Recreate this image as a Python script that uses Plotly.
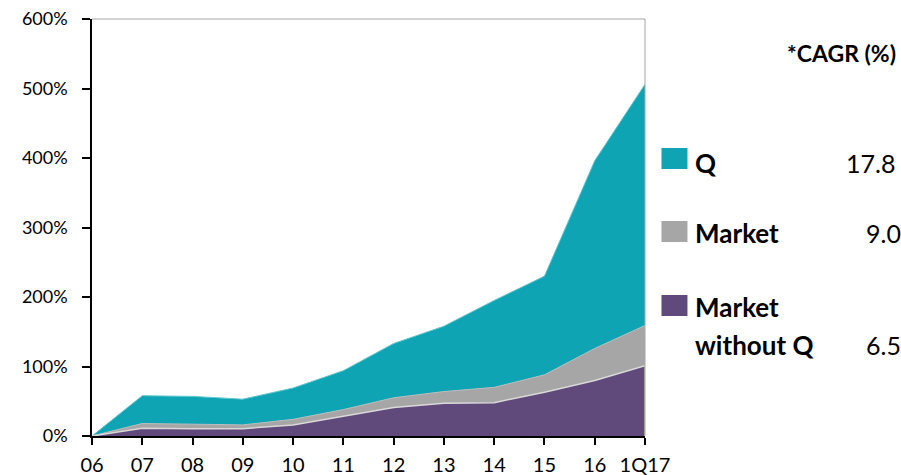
import plotly.graph_objects as go

categories = ["06", "07", "08", "09", "10", "11", "12", "13", "14", "15", "16", "1Q17"]
q_values = [0, 58, 57, 53, 69, 94, 133, 158, 195, 230, 396, 506]
market_values = [0, 18, 17, 16, 24, 38, 55, 64, 70, 88, 126, 159]
market_wo_q_values = [0, 11, 10.5, 10.5, 16, 28, 41, 47, 48, 63, 80, 101]

legend_lines = [("Q", 163), ("Market", 233), ("Market", 307), ("without Q", 345)]
cagr_labels = ["17.8", "9.0", "6.5"]
cagr_title = "*CAGR (%)"

TEAL = "#0FA4B3"
GREY = "#A6A6A6"
PURPLE = "#604A7B"
FONT = "Lato"

W, H = 901, 475
L, R, T, B = 92, 645.5, 19, 436


def px(x):
    return (x - L) / (R - L)


def py(y):
    return (B - y) / (B - T)


fig = go.Figure()
fig.add_trace(go.Scatter(x=categories, y=q_values, mode="lines", fill="tozeroy",
                         fillcolor=TEAL, line=dict(color="#5CC6CF", width=1), name="Q"))
fig.add_trace(go.Scatter(x=categories, y=market_values, mode="lines", fill="tozeroy",
                         fillcolor=GREY, line=dict(color="#BDBDBD", width=1), name="Market"))
fig.add_trace(go.Scatter(x=categories, y=market_wo_q_values, mode="lines", fill="tozeroy",
                         fillcolor=PURPLE, line=dict(color="#D9D9D9", width=1.5),
                         name="Market without Q"))
fig.add_trace(go.Scatter(x=[categories[-1], categories[-1]], y=[0, market_wo_q_values[-1]],
                         mode="lines", line=dict(color="#92D050", width=1.5), name="edge"))

# plot frame: top and right in grey
fig.add_shape(type="line", xref="paper", yref="paper", x0=0, x1=1, y0=1, y1=1,
              line=dict(color="#A6A6A6", width=1))
fig.add_shape(type="line", xref="paper", yref="paper", x0=1, x1=1, y0=0, y1=1,
              line=dict(color="#A6A6A6", width=1))

# custom legend
legend_sq = [(148, 169), (221, 242), (295, 316)]
colors = [TEAL, GREY, PURPLE]
for (y0, y1), c in zip(legend_sq, colors):
    fig.add_shape(type="rect", xref="paper", yref="paper", x0=px(662), x1=px(688),
                  y0=py(y1), y1=py(y0), fillcolor=c, line=dict(width=0))

for name, yy in legend_lines:
    fig.add_annotation(xref="paper", yref="paper", x=px(694), y=py(yy), text="<b>%s</b>" % name,
                       showarrow=False, xanchor="left", yanchor="middle", align="left",
                       font=dict(family=FONT, size=26, color="black"))

val_pos = [(845, 163), (865, 233), (865, 345)]
for lab, (xx, yy) in zip(cagr_labels, val_pos):
    fig.add_annotation(xref="paper", yref="paper", x=px(xx), y=py(yy), text=lab,
                       showarrow=False, xanchor="left", yanchor="middle",
                       font=dict(family=FONT, size=25, color="black"))

fig.add_annotation(xref="paper", yref="paper", x=px(899), y=py(53), text="<b>%s</b>" % cagr_title,
                   showarrow=False, xanchor="right", yanchor="middle",
                   font=dict(family=FONT, size=23, color="black"))

fig.update_layout(
    width=W, height=H,
    margin=dict(l=L, r=W - R, t=T, b=H - B, autoexpand=False),
    paper_bgcolor="white", plot_bgcolor="white",
    showlegend=False,
    font=dict(family=FONT, size=18, color="black"),
    xaxis=dict(type="category", range=[0, len(categories) - 1], showgrid=False,
               showline=True, linecolor="black", linewidth=1.5,
               ticks="outside", ticklen=7, tickcolor="black", tickwidth=1.5,
               ticklabelstandoff=3, zeroline=False, automargin=False,
               tickfont=dict(family=FONT, size=20)),
    yaxis=dict(range=[0, 600], dtick=100, ticksuffix="%", showgrid=False,
               showline=True, linecolor="black", linewidth=1.5,
               ticks="outside", ticklen=8, tickcolor="black", tickwidth=1.5,
               ticklabelstandoff=11, zeroline=False, automargin=False,
               tickfont=dict(family=FONT, size=18)),
)

fig.write_html("out.html", config={"displayModeBar": False},
               post_script="document.body.style.margin='0';document.body.style.overflow='hidden';")
